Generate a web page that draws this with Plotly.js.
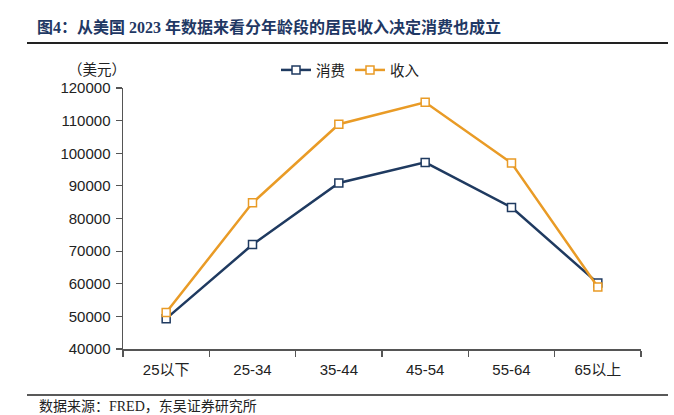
<!DOCTYPE html>
<html>
<head>
<meta charset="utf-8">
<script src="https://cdn.plot.ly/plotly-3.0.1.min.js"></script>
<style>html,body{margin:0;padding:0;background:#fff;}#chart{width:674px;height:415px;}</style>
</head>
<body>
<div id="chart"></div>
<script>
const categories = ["25以下", "25-34", "35-44", "45-54", "55-64", "65以上"];
const consumption = [49300, 72000, 90900, 97200, 83400, 60200];
const income = [51200, 84800, 108900, 115600, 97000, 59000];
const yTicks = [40000, 50000, 60000, 70000, 80000, 90000, 100000, 110000, 120000];

const L = 123, R = 641, T = 88, B = 349;
const W = 674, H = 415;
const px = x => (x - L) / (R - L);
const py = y => (B - y) / (B - T);

const cjk = "Liberation Sans, Arial, 'Noto Sans CJK SC', sans-serif";
const serif = "'Liberation Serif', 'Times New Roman', 'Noto Sans CJK SC', serif";

const traces = [
  {
    x: categories, y: consumption, name: "消费", type: "scatter", mode: "lines+markers",
    line: {color: "#1F3A60", width: 2.5},
    marker: {symbol: "square", size: 8, color: "#ffffff", line: {color: "#1F3A60", width: 1.5}}
  },
  {
    x: categories, y: income, name: "收入", type: "scatter", mode: "lines+markers",
    line: {color: "#E99B26", width: 2.5},
    marker: {symbol: "square", size: 8, color: "#ffffff", line: {color: "#E99B26", width: 1.5}}
  }
];

const layout = {
  width: W, height: H,
  margin: {l: L, r: W - R, t: T, b: H - B, pad: 0},
  paper_bgcolor: "#fff", plot_bgcolor: "#fff",
  showlegend: true,
  title: {
    text: "<b>图4：从美国 2023 年数据来看分年龄段的居民收入决定消费也成立</b>",
    font: {family: serif, size: 16, color: "#1F3864"},
    x: 37 / W, xref: "container", xanchor: "left",
    y: 1 - 27 / H, yref: "container", yanchor: "middle"
  },
  legend: {
    orientation: "h", x: px(350), xanchor: "center", y: py(70), yanchor: "middle",
    font: {family: cjk, size: 14.5, color: "#222"},
    itemwidth: 30, tracegroupgap: 0, bgcolor: "rgba(0,0,0,0)"
  },
  xaxis: {
    type: "category", range: [-0.5, 5.5],
    showline: true, linecolor: "#555", linewidth: 1.5,
    ticks: "outside", tickson: "boundaries", ticklen: 6, tickcolor: "#555", tickwidth: 1.2,
    ticklabelstandoff: 6,
    showgrid: false, zeroline: false,
    tickfont: {family: cjk, size: 15, color: "#222"}
  },
  yaxis: {
    range: [40000, 120000], tickvals: yTicks, ticktext: yTicks.map(String),
    showline: true, linecolor: "#555", linewidth: 1.5,
    ticks: "outside", ticklen: 6, tickcolor: "#555", tickwidth: 1.2,
    ticklabelstandoff: 2,
    showgrid: false, zeroline: false,
    tickfont: {family: cjk, size: 15, color: "#222"}
  },
  annotations: [
    {
      text: "（美元）", xref: "paper", yref: "paper", x: px(128), y: py(70),
      xanchor: "right", yanchor: "middle", showarrow: false,
      font: {family: cjk, size: 14.5, color: "#222"}
    },
    {
      text: "数据来源：FRED，东吴证券研究所", xref: "paper", yref: "paper", x: px(37), y: py(406),
      xanchor: "left", yanchor: "middle", showarrow: false,
      font: {family: serif, size: 14, color: "#222"}
    }
  ],
  shapes: [
    {type: "line", xref: "paper", yref: "paper", x0: px(27), x1: px(668), y0: py(43), y1: py(43),
     line: {color: "#222", width: 2}},
    {type: "line", xref: "paper", yref: "paper", x0: px(27), x1: px(668), y0: py(395), y1: py(395),
     line: {color: "#222", width: 1.5}}
  ]
};

Plotly.newPlot("chart", traces, layout, {displayModeBar: false, staticPlot: true});
</script>
</body>
</html>
